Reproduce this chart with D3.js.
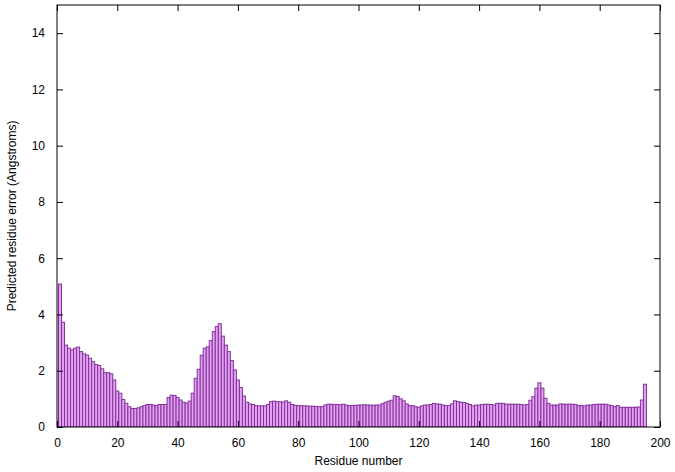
<!DOCTYPE html>
<html>
<head>
<meta charset="utf-8">
<script src="https://cdn.jsdelivr.net/npm/d3@7"></script>
<style>
  html, body { margin: 0; padding: 0; background: #fff; }
  svg { display: block; }
  text { font-family: "Liberation Sans", Arial, sans-serif; font-size: 12px; fill: #000; }
</style>
</head>
<body>
<svg id="chart" width="675" height="472"></svg>
<script>
// Predicted residue error per residue (residues 1..195)
const residues = d3.range(1, 196);
const errors = [
  5.08, 3.72, 2.91, 2.80, 2.74, 2.80, 2.84, 2.68, 2.60, 2.56,
  2.44, 2.32, 2.22, 2.19, 2.07, 1.93, 1.93, 1.89, 1.67, 1.28,
  1.20, 0.98, 0.84, 0.72, 0.66, 0.66, 0.68, 0.72, 0.76, 0.80,
  0.80, 0.78, 0.76, 0.80, 0.80, 0.80, 1.05, 1.13, 1.12, 1.05,
  0.96, 0.88, 0.85, 0.92, 1.20, 1.73, 2.05, 2.55, 2.80, 2.85,
  3.07, 3.39, 3.57, 3.67, 3.23, 2.91, 2.68, 2.36, 2.03, 1.67,
  1.40, 1.10, 0.88, 0.82, 0.80, 0.76, 0.75, 0.75, 0.75, 0.80,
  0.90, 0.92, 0.90, 0.90, 0.88, 0.93, 0.88, 0.80, 0.77, 0.76,
  0.76, 0.75, 0.75, 0.74, 0.74, 0.73, 0.72, 0.72, 0.78, 0.81,
  0.81, 0.80, 0.80, 0.79, 0.81, 0.78, 0.76, 0.76, 0.77, 0.78,
  0.78, 0.79, 0.78, 0.78, 0.77, 0.78, 0.78, 0.83, 0.88, 0.92,
  0.95, 1.11, 1.08, 1.00, 0.93, 0.82, 0.76, 0.76, 0.72, 0.70,
  0.75, 0.78, 0.78, 0.80, 0.84, 0.82, 0.81, 0.78, 0.76, 0.76,
  0.82, 0.93, 0.90, 0.88, 0.87, 0.84, 0.80, 0.75, 0.78, 0.78,
  0.80, 0.81, 0.81, 0.80, 0.78, 0.84, 0.84, 0.84, 0.81, 0.81,
  0.81, 0.81, 0.81, 0.80, 0.78, 0.80, 0.95, 1.08, 1.38, 1.57,
  1.38, 1.02, 0.84, 0.78, 0.78, 0.78, 0.82, 0.81, 0.81, 0.81,
  0.81, 0.80, 0.76, 0.76, 0.75, 0.78, 0.78, 0.80, 0.81, 0.81,
  0.81, 0.81, 0.78, 0.76, 0.72, 0.76, 0.70, 0.70, 0.70, 0.70,
  0.70, 0.70, 0.71, 0.96, 1.52
];
const xTicks = [0, 20, 40, 60, 80, 100, 120, 140, 160, 180, 200];
const yTicks = [0, 2, 4, 6, 8, 10, 12, 14];
const xTitle = "Residue number";
const yTitle = "Predicted residue error (Angstroms)";

const svg = d3.select("#chart");
const L = 57, R = 660, T = 5, B = 427;
const x = d3.scaleLinear().domain([0, 200]).range([L, R]);
const y = d3.scaleLinear().domain([0, 15]).range([B, T]);

const data = residues.map((r, i) => ({ r, v: errors[i] }));

svg.append("defs").append("clipPath").attr("id", "clip")
  .append("rect").attr("x", L).attr("y", T).attr("width", R - L).attr("height", B - T);

svg.append("g").attr("clip-path", "url(#clip)")
  .selectAll("rect").data(data).join("rect")
  .attr("x", d => x(d.r - 0.5))
  .attr("width", d => x(d.r + 0.5) - x(d.r - 0.5))
  .attr("y", d => y(d.v))
  .attr("height", d => y(0) - y(d.v))
  .attr("fill", "#e3a2f2")
  .attr("stroke", "#83329a")
  .attr("stroke-width", 1);

// Axes (gnuplot style: inward ticks, mirrored)
const tickLen = 6;
const axB = d3.axisBottom(x).tickValues(xTicks).tickSizeInner(-tickLen).tickSizeOuter(0).tickPadding(tickLen + 5);
const axL = d3.axisLeft(y).tickValues(yTicks).tickSizeInner(-tickLen).tickSizeOuter(0).tickPadding(tickLen + 6);
const axT = d3.axisTop(x).tickValues(xTicks).tickSizeInner(-tickLen).tickSizeOuter(0).tickFormat("");
const axR = d3.axisRight(y).tickValues(yTicks).tickSizeInner(-tickLen).tickSizeOuter(0).tickFormat("");

function style(g) {
  g.select(".domain").remove();
  g.selectAll("line").attr("stroke", "#000");
  g.selectAll("text").attr("font-family", "Liberation Sans, Arial, sans-serif").attr("font-size", 12).attr("fill", "#000");
}
svg.append("g").attr("transform", `translate(0,${B})`).call(axB).call(style);
svg.append("g").attr("transform", `translate(${L},0)`).call(axL).call(style);
svg.append("g").attr("transform", `translate(0,${T})`).call(axT).call(style);
svg.append("g").attr("transform", `translate(${R},0)`).call(axR).call(style);

svg.append("rect").attr("x", L).attr("y", T).attr("width", R - L).attr("height", B - T)
  .attr("fill", "none").attr("stroke", "#000").attr("stroke-width", 1);

svg.append("text").attr("x", (L + R) / 2).attr("y", 465).attr("text-anchor", "middle").text(xTitle);
svg.append("text").attr("transform", `translate(16,${(T + B) / 2}) rotate(-90)`)
  .attr("text-anchor", "middle").text(yTitle);
</script>
</body>
</html>
